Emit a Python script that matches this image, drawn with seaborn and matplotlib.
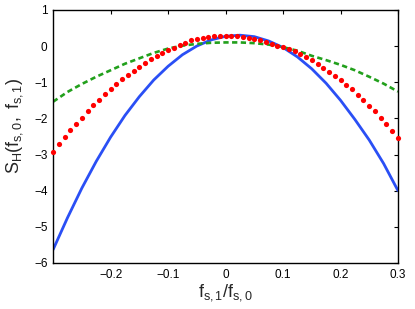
import matplotlib
matplotlib.use("Agg")
import matplotlib.pyplot as plt
import pandas as pd
import seaborn as sns

# ratio f_s,1 / f_s,0 for the two solid/dashed curves
ratio = [-0.300, -0.275, -0.250, -0.225, -0.200, -0.175, -0.150, -0.125, -0.100,
         -0.075, -0.050, -0.025, 0.000, 0.025, 0.050, 0.075, 0.100, 0.125,
         0.150, 0.175, 0.200, 0.225, 0.250, 0.275, 0.300]

s_blue = [-5.63, -4.75, -3.93, -3.19, -2.52, -1.92, -1.40, -0.94, -0.56,
          -0.24, 0.00, 0.17, 0.27, 0.30, 0.26, 0.14, -0.04, -0.30,
          -0.63, -1.03, -1.50, -2.03, -2.60, -3.25, -4.00]
s_green = [-1.54, -1.27, -1.05, -0.85, -0.67, -0.49, -0.34, -0.19, -0.07,
           0.01, 0.06, 0.09, 0.10, 0.10, 0.08, 0.04, -0.03, -0.13,
           -0.27, -0.39, -0.52, -0.67, -0.85, -1.04, -1.26]

# red dotted series: one marker every 0.01
ratio_red = [-0.30, -0.29, -0.28, -0.27, -0.26, -0.25, -0.24, -0.23, -0.22, -0.21,
             -0.20, -0.19, -0.18, -0.17, -0.16, -0.15, -0.14, -0.13, -0.12, -0.11,
             -0.10, -0.09, -0.08, -0.07, -0.06, -0.05, -0.04, -0.03, -0.02, -0.01,
             0.00, 0.01, 0.02, 0.03, 0.04, 0.05, 0.06, 0.07, 0.08, 0.09,
             0.10, 0.11, 0.12, 0.13, 0.14, 0.15, 0.16, 0.17, 0.18, 0.19,
             0.20, 0.21, 0.22, 0.23, 0.24, 0.25, 0.26, 0.27, 0.28, 0.29, 0.30]
s_red = [-2.92, -2.72, -2.52, -2.32, -2.15, -1.98, -1.80, -1.63, -1.49, -1.34,
         -1.19, -1.05, -0.92, -0.80, -0.69, -0.57, -0.47, -0.37, -0.28, -0.20,
         -0.12, -0.05, 0.03, 0.09, 0.16, 0.20, 0.23, 0.26, 0.27, 0.28,
         0.28, 0.28, 0.27, 0.25, 0.23, 0.19, 0.16, 0.11, 0.06, 0.01,
         -0.02, -0.07, -0.13, -0.22, -0.30, -0.39, -0.49, -0.60, -0.71, -0.82,
         -0.94, -1.08, -1.20, -1.35, -1.50, -1.66, -1.81, -1.99, -2.16, -2.35, -2.53]

xticks = [-0.2, -0.1, 0, 0.1, 0.2, 0.3]
xticklabels = ["\u22120.2", "\u22120.1", "0", "0.1", "0.2", "0.3"]
yticks = [-6, -5, -4, -3, -2, -1, 0, 1]

df = pd.DataFrame({"r": ratio, "blue": s_blue, "green": s_green})
df_red = pd.DataFrame({"r": ratio_red, "red": s_red})

sns.set_style("white")
plt.rcParams["font.family"] = ["Liberation Sans", "DejaVu Sans"]
plt.rcParams["mathtext.fontset"] = "custom"
plt.rcParams["mathtext.rm"] = "Liberation Sans"
plt.rcParams["mathtext.it"] = "Liberation Sans"

fig = plt.figure(figsize=(4.15, 3.09), dpi=100)
ax = fig.add_axes([0.128, 0.149, 0.831, 0.819])

sns.lineplot(data=df, x="r", y="blue", ax=ax, color="#2a4ff5", lw=2.0)
sns.lineplot(data=df, x="r", y="green", ax=ax, color="#22a01c", lw=1.9,
             linestyle=(0, (2.0, 1.3)))
sns.scatterplot(data=df_red, x="r", y="red", ax=ax, color="#ff0000", s=14,
                linewidth=0, zorder=3, clip_on=False)

ax.set_xlim(-0.3, 0.3)
ax.set_ylim(-6, 1)
ax.set_xticks(xticks)
ax.set_xticklabels(xticklabels)
ax.set_yticks(yticks)
ax.set_yticklabels([str(v).replace("-", "\u2212") for v in yticks])
ax.tick_params(direction="in", length=3, width=0.8, labelsize=8.5, colors="black",
               top=True, right=True, pad=4)
for sp in ax.spines.values():
    sp.set_color("black")
    sp.set_linewidth(1.0)

ax.set_xlabel("$f_{s,1}/f_{s,0}$", fontsize=13, labelpad=1)
ax.set_ylabel("$S_H(f_{s,0},\\ f_{s,1})$", fontsize=13)
ax.yaxis.set_label_coords(-0.082, 0.54)

fig.savefig("out.png", dpi=100)
